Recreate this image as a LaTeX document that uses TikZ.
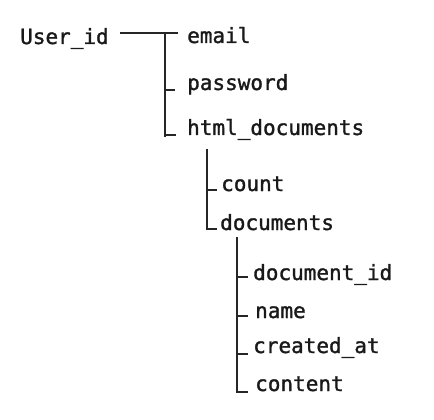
\documentclass[tikz,border=0pt]{standalone}
\usepackage{fontspec}
\setmonofont[FakeBold=1.4]{DejaVu Sans Mono}
\begin{document}
\begin{tikzpicture}[x=1pt,y=-1pt,
  lbl/.style={anchor=base west,inner sep=0pt,font=\ttfamily\fontsize{21}{25}\selectfont,text=black!90},
  conn/.style={draw=black!85,line width=1.2pt}]
\useasboundingbox (0,0) rectangle (434,420);
% labels
\node[lbl] (uid) at (20,44) {User\_id};
\node[lbl] (email) at (187,43) {email};
\node[lbl] (pwd) at (187,90) {password};
\node[lbl] (html) at (187,135) {html\_documents};
\node[lbl] (count) at (221,191) {count};
\node[lbl] (docs) at (220,230) {documents};
\node[lbl] (docid) at (253,280) {document\_id};
\node[lbl] (name) at (255,318) {name};
\node[lbl] (created) at (253,353) {created\_at};
\node[lbl] (content) at (255,391) {content};
% connector points
\coordinate (a0) at (120,33);
\coordinate (a1) at (165,33);
\coordinate (a2) at (178,33);
\coordinate (a3) at (165,137);
\coordinate (p1) at (165,90);
\coordinate (p2) at (175,90);
\coordinate (h1) at (165,135);
\coordinate (h2) at (176,135);
\coordinate (b0) at (207,149);
\coordinate (c1) at (207,190);
\coordinate (c2) at (217,190);
\coordinate (d1) at (207,229);
\coordinate (d2) at (217,229);
\coordinate (e0) at (237,237);
\coordinate (f1) at (237,277);
\coordinate (f2) at (248,277);
\coordinate (g1) at (237,316);
\coordinate (g2) at (248,316);
\coordinate (k1) at (237,354);
\coordinate (k2) at (248,354);
\coordinate (m1) at (237,392);
\coordinate (m2) at (248,392);
% connectors
\draw[conn] (a0) -- (a2);
\draw[conn] (a1) -- (a3);
\draw[conn] (p1) -- (p2);
\draw[conn] (h1) -- (h2);
\draw[conn] (b0) -- (d1) -- (d2);
\draw[conn] (c1) -- (c2);
\draw[conn] (e0) -- (m1) -- (m2);
\draw[conn] (f1) -- (f2);
\draw[conn] (g1) -- (g2);
\draw[conn] (k1) -- (k2);
\end{tikzpicture}
\end{document}
